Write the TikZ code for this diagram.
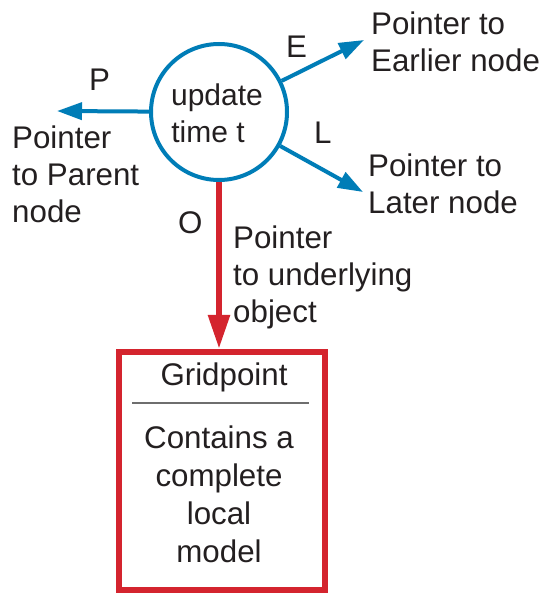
\documentclass[tikz,border=0pt]{standalone}
\usepackage{fontspec}
\setmainfont{Liberation Sans}
\usetikzlibrary{arrows.meta}
\definecolor{ptrblue}{RGB}{0,125,183}
\definecolor{objred}{RGB}{212,36,46}
\definecolor{ink}{RGB}{35,31,32}
\definecolor{rule}{RGB}{110,110,110}
\begin{document}
\begin{tikzpicture}[x=1pt,y=-1pt,
  every node/.style={text=ink,font=\fontsize{31.3}{37}\selectfont},
  lbl/.style={anchor=base west,inner sep=0pt,align=left},
  ctr/.style={anchor=base,inner sep=0pt,align=center},
  blueptr/.style={draw=ptrblue,line width=4pt,
    -{Triangle[length=25pt,width=17pt]}},
  redptr/.style={draw=objred,line width=6pt,
    -{Triangle[length=34pt,width=21pt]}}]
\useasboundingbox (0,0) rectangle (545,594);

% the tree node
\node[draw=ptrblue,line width=4pt,circle,minimum size=136pt,inner sep=0pt] (t) at (219,112) {};
\node[ctr,font=\fontsize{30}{37}\selectfont] (tl1) at (217,105) {update};
\node[ctr,font=\fontsize{30}{37}\selectfont] (tl2) at (208,142) {time t};

% pointer end points
\coordinate (ptip) at (57,111);
\coordinate (etip) at (364,40);
\coordinate (ltip) at (363,192);

% the object box (multi-line nodes are placed by their last baseline)
\node[draw=objred,line width=6.5pt,minimum width=206pt,minimum height=238pt,
      inner sep=0pt] (box) at (222,471) {};
\coordinate (sepl) at (132,403);
\coordinate (sepr) at (309,403);
\draw[rule,line width=1.2pt] (sepl) -- (sepr);
\node[ctr] (gp) at (224,385) {Gridpoint};
\node[ctr,font=\fontsize{31.3}{38}\selectfont] (body) at (219,562)
  {Contains a\\complete\\local\\model};

% pointers
\draw[blueptr] (t) -- (ptip);
\draw[blueptr] (t) -- (etip);
\draw[blueptr] (t) -- (ltip);
\draw[redptr] (t.south) -- (t.south |- box.north);

% pointer labels
\node[lbl] (pl) at (89,90) {P};
\node[lbl] (ptxt) at (12,222) {Pointer\\to Parent\\node};
\node[lbl] (el) at (286,57) {E};
\node[lbl] (etxt) at (371,71) {Pointer to\\Earlier node};
\node[lbl] (ll) at (314,143) {L};
\node[lbl] (ltxt) at (368,213) {Pointer to\\Later node};
\node[lbl] (ol) at (178,233) {O};
\node[lbl] (otxt) at (233,322) {Pointer\\to underlying\\object};
\end{tikzpicture}
\end{document}
